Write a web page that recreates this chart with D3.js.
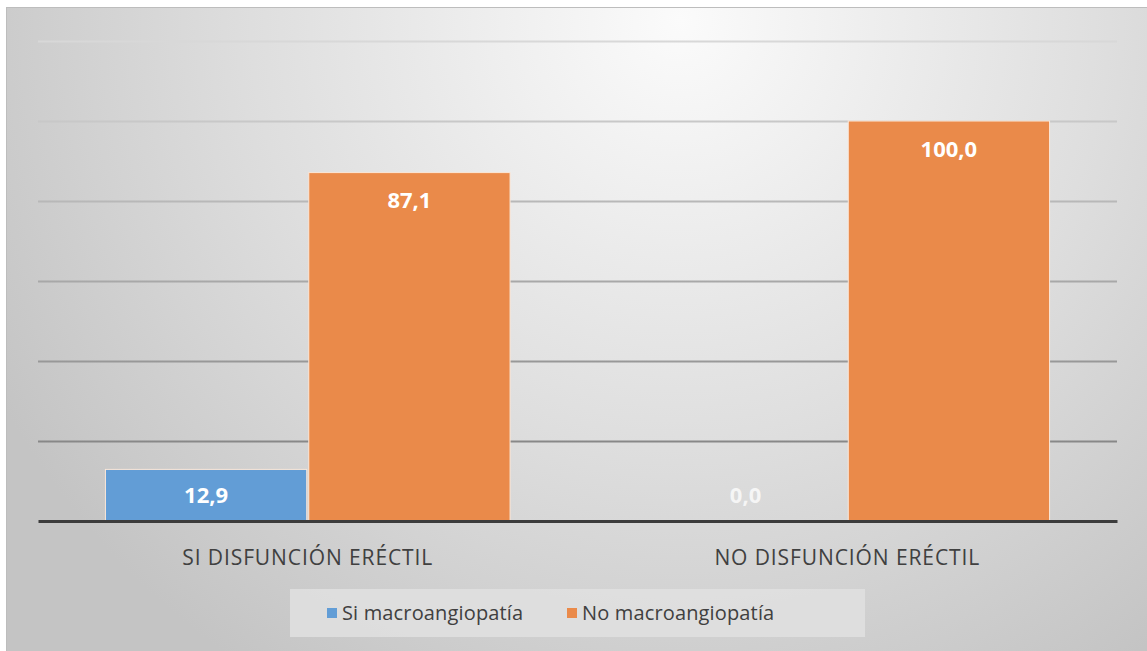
<!DOCTYPE html>
<html lang="es">
<head>
<meta charset="utf-8">
<title>Disfunción eréctil y macroangiopatía</title>
<script src="https://d3js.org/d3.v7.min.js"></script>
<style>
  body { margin: 0; background: #fff; }
  text { font-family: "Open Sans", sans-serif; }
</style>
</head>
<body>
<div id="chart"></div>
<script>
// data
const categories = ["SI DISFUNCIÓN ERÉCTIL", "NO DISFUNCIÓN ERÉCTIL"];
const seriesNames = ["Si macroangiopatía", "No macroangiopatía"];
const siMacro = [12.9, 0.0];
const noMacro = [87.1, 100.0];
const yTicks = [0, 20, 40, 60, 80, 100, 120];

const colors = ["#629dd6", "#ea8a4a"];
const width = 1147, height = 651;
const plot = { left: 38, right: 1117, top: 41, bottom: 521 };

const svg = d3.select("#chart").append("svg")
  .attr("width", width).attr("height", height);

const defs = svg.append("defs");
const bg = defs.append("radialGradient").attr("id", "bg")
  .attr("gradientUnits", "userSpaceOnUse")
  .attr("cx", 680).attr("cy", 20).attr("r", 780);
bg.append("stop").attr("offset", "0%").attr("stop-color", "#fbfbfb");
bg.append("stop").attr("offset", "55%").attr("stop-color", "#dedede");
bg.append("stop").attr("offset", "100%").attr("stop-color", "#c4c4c4");

// chart area
svg.append("rect")
  .attr("x", 6.5).attr("y", 7.5)
  .attr("width", width - 6).attr("height", height - 7)
  .attr("fill", "url(#bg)")
  .attr("stroke", "#bdbdbd");

const x0 = d3.scaleBand()
  .domain(categories)
  .range([plot.left, plot.right])
  .paddingInner(0.25)
  .paddingOuter(0.125);

const x1 = d3.scaleBand()
  .domain(seriesNames)
  .range([0, x0.bandwidth()])
  .paddingInner(0.01);

const y = d3.scaleLinear()
  .domain([0, 120])
  .range([plot.bottom, plot.top]);

// gridlines, lighter towards the top like the reference
const gridColor = d3.scaleLinear().domain([20, 120]).range(["#888888", "#d8d8d8"]);
svg.append("g")
  .attr("class", "grid")
  .attr("transform", "translate(" + plot.left + ",0)")
  .call(d3.axisLeft(y).tickValues(yTicks.filter(d => d > 0))
    .tickSize(-(plot.right - plot.left)).tickFormat(""))
  .call(g => g.select(".domain").remove())
  .call(g => g.selectAll(".tick line")
    .attr("stroke", d => gridColor(d))
    .attr("stroke-width", 2));

const table = categories.map((c, i) => ({
  category: c,
  values: [siMacro[i], noMacro[i]]
}));

const groups = svg.append("g").selectAll("g")
  .data(table)
  .join("g")
  .attr("transform", d => "translate(" + x0(d.category) + ",0)");

groups.selectAll("rect")
  .data(d => d.values.map((v, j) => ({ series: seriesNames[j], value: v, j: j })))
  .join("rect")
  .filter(d => d.value > 0)
  .attr("x", d => x1(d.series))
  .attr("y", d => y(d.value))
  .attr("width", x1.bandwidth())
  .attr("height", d => y(0) - y(d.value))
  .attr("fill", d => colors[d.j])
  .attr("stroke", "#fbe7d8")
  .attr("stroke-width", 1);

groups.selectAll("text")
  .data(d => d.values.map((v, j) => ({ series: seriesNames[j], value: v, j: j })))
  .join("text")
  .attr("x", d => x1(d.series) + x1.bandwidth() / 2)
  .attr("y", d => Math.min(y(d.value) + 28, y(0) - 26))
  .attr("dy", "0.35em")
  .attr("text-anchor", "middle")
  .attr("fill", "#fff")
  .attr("fill-opacity", d => d.value > 0 ? 1 : 0.75)
  .attr("font-size", 22)
  .attr("font-weight", 700)
  .text(d => d.value.toFixed(1).replace(".", ","));

// baseline + category axis
svg.append("g")
  .attr("transform", "translate(0," + plot.bottom + ")")
  .call(d3.axisBottom(x0).tickSize(0).tickPadding(29))
  .call(g => g.select(".domain").attr("stroke", "#3c3c3c").attr("stroke-width", 3))
  .call(g => g.selectAll("text")
    .attr("fill", "#404040")
    .attr("font-size", 21)
    .attr("letter-spacing", 0.9)
    .style("font-family", "'Open Sans', sans-serif"));

// legend
const legend = svg.append("g");
legend.append("rect")
  .attr("x", 290).attr("y", 589)
  .attr("width", 575).attr("height", 48)
  .attr("fill", "#e0e0e0").attr("fill-opacity", 0.85);

const legendX = [327, 567];
const items = legend.selectAll("g.item")
  .data(seriesNames)
  .join("g")
  .attr("class", "item")
  .attr("transform", (d, i) => "translate(" + legendX[i] + ",613)");
items.append("rect")
  .attr("x", 0).attr("y", -5)
  .attr("width", 10).attr("height", 10)
  .attr("fill", (d, i) => colors[i]);
items.append("text")
  .attr("x", 15).attr("dy", "0.35em")
  .attr("fill", "#404040")
  .attr("font-size", 20)
  .attr("letter-spacing", 0.15)
  .text(d => d);
</script>
</body>
</html>
